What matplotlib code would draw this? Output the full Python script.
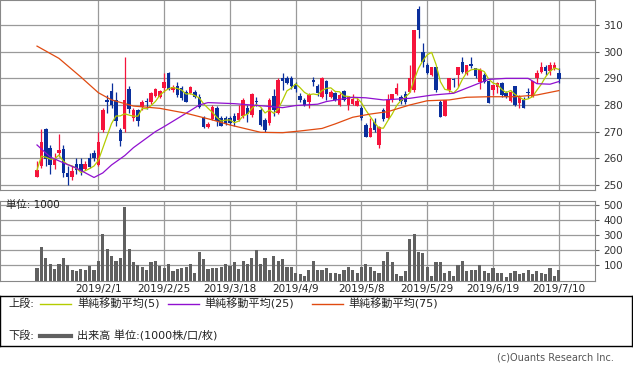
import matplotlib.pyplot as plt
import pandas as pd

plt.rcParams['font.family'] = ['DejaVu Sans', 'Noto Sans CJK JP']

# 日足データ（120本、2019/7/10 が最後）
opens = [253.1, 257, 271, 264, 257.5, 262, 263.4, 254.4, 252.8, 257.8,
         257.8, 255.9, 260.2, 261.9, 257.5, 270.6, 282, 285.3, 282, 270.6,
         271, 286, 275, 278, 279.4, 281.5, 281.3, 283.4, 283.1, 286.3,
         292, 285.6, 287, 286.3, 285, 284.4, 285, 283.1, 275.4, 271.6,
         274.9, 278.9, 275.1, 275.1, 275.1, 275.8, 274.5, 275.8, 279, 276.3,
         281.5, 278.3, 274.3, 273.1, 283.2, 277, 290.1, 290, 290, 288,
         283.5, 282, 281.2, 289.2, 287, 282.9, 289, 283, 284.5, 280.1,
         285.4, 280.1, 280.4, 279.8, 278.9, 272.6, 268, 273.5, 264.8, 278.2,
         275, 281.9, 284, 283.1, 284.1, 285, 285.6, 316.2, 300, 295,
         291.2, 294.4, 281.2, 275.9, 285.6, 289.6, 291.2, 296.2, 291.6, 295.2,
         293.8, 288.8, 291.2, 289.1, 285.6, 286.6, 288.1, 284.4, 281.6, 287.1,
         280.6, 281.9, 284.8, 283.1, 290, 292.5, 294.4, 292.8, 293.8, 292.1]
highs = [259, 271, 271.5, 265, 262, 269, 265, 257, 257, 260,
         260, 258.8, 262, 263, 270, 279, 283.8, 288.4, 285, 271.5,
         298, 287, 279, 278.5, 282, 282.5, 285, 286.3, 285.6, 292,
         292.5, 287.5, 288.5, 287, 285.6, 287, 285.6, 284, 276, 273.5,
         280, 279.5, 275.8, 275.8, 276, 277, 280, 282.6, 280, 284.4,
         283, 279, 275, 282.6, 286, 290, 292, 291, 291, 288.5,
         284.5, 282.5, 284.4, 290.5, 287.8, 290.4, 289.5, 285.5, 285, 284.5,
         285.8, 283.5, 284, 282.8, 279.5, 273.2, 275, 275, 272.2, 279,
         284, 284, 288.1, 283.8, 285.4, 295, 308.1, 317.1, 303.1, 295.6,
         294.4, 294.4, 281.9, 281.9, 290, 290, 294.4, 298.1, 295, 298.1,
         293.8, 293.8, 291.9, 289.1, 287.5, 288.8, 288.8, 285.4, 285.6, 287.1,
         283.8, 283.1, 286.2, 289.1, 293.1, 296.2, 295, 296.2, 296.2, 293.8]
lows = [253, 256.5, 257, 254, 256, 260.5, 253, 250, 252, 254,
        253.8, 255.6, 256.3, 258.8, 257, 270, 277, 279, 272, 264.7,
        270, 277, 274, 272, 278, 278.5, 280.5, 283, 282.5, 285,
        285.6, 285, 283, 282, 281, 284, 282.5, 279, 271.3, 271.5,
        274.5, 272, 272, 272.5, 272.5, 272, 274, 275, 273.5, 275.5,
        279.5, 272, 270, 272.5, 276, 276.5, 285.6, 288, 286, 285,
        281, 279.6, 278.8, 287, 283.5, 282.6, 282, 282.6, 281.5, 279.6,
        281.5, 278.1, 280, 279.6, 274.5, 267.9, 267.9, 270, 263.7, 274,
        274.8, 281.2, 283.8, 280.5, 280.5, 285, 285, 305, 294.4, 291.6,
        290.9, 285, 275.6, 275.9, 285, 286.9, 286.9, 291.9, 291.2, 293.8,
        290, 285.9, 288.1, 280.9, 283.8, 284.4, 283.1, 282.5, 281.2, 279.6,
        278.8, 278.8, 282.5, 282.9, 288.1, 292.1, 291.2, 291.2, 293.1, 288.1]
closes = [255.6, 266, 259.6, 257.5, 260, 263, 254.6, 252.9, 255.2, 255.6,
          255.2, 257.8, 256.9, 260, 266.3, 278, 281, 280, 274, 266.5,
          282, 278.5, 278, 274, 281.3, 281, 284.4, 285.9, 285.4, 288.8,
          286, 286.9, 283.8, 282.5, 281.3, 286.9, 283.1, 279.4, 271.6, 272.9,
          279.1, 273.9, 272.3, 273.3, 273.3, 273.9, 277, 282, 276.6, 284,
          281.2, 272.5, 270.7, 282, 278, 289.3, 288.9, 288.4, 287.1, 286,
          282, 280.1, 283.8, 288.8, 284.5, 290, 284, 284.9, 282, 283.9,
          282, 283.2, 282.4, 281.4, 275.1, 268, 271.4, 270.5, 271.8, 274.8,
          281.9, 284, 286.2, 281.6, 281, 290, 308.1, 308.1, 296.2, 291.9,
          294.4, 285.6, 275.6, 281.9, 290, 289.2, 294.4, 292.5, 295, 294.8,
          290.9, 293.1, 288.8, 280.9, 287.5, 288.1, 283.8, 282.9, 285, 280,
          283.1, 278.8, 284.5, 289.1, 292.1, 294.4, 292.8, 295, 295, 289.6]
volumes = [80, 220, 153, 113, 76, 113, 147, 100, 67, 62,
           78, 69, 98, 67, 133, 307, 207, 160, 129, 147,
           487, 207, 122, 100, 89, 67, 122, 129, 96, 80,
           107, 62, 76, 82, 89, 107, 53, 187, 140, 76,
           80, 80, 89, 113, 96, 122, 76, 133, 107, 147,
           200, 107, 147, 73, 160, 127, 140, 87, 87, 50,
           45, 33, 73, 133, 73, 73, 80, 53, 53, 40,
           73, 87, 73, 53, 93, 113, 93, 60, 53, 133,
           187, 120, 40, 27, 60, 273, 307, 187, 180, 87,
           27, 120, 120, 53, 60, 33, 100, 127, 60, 73,
           67, 100, 60, 53, 80, 53, 53, 20, 47, 60,
           40, 47, 73, 40, 60, 53, 40, 80, 33, 67]

# 移動平均線（25日・75日）は表示期間より前のデータを含むため図から読み取り
ma25_x = [0, 3, 6, 9, 13, 15, 17, 20, 22, 27, 29, 34, 37, 39, 45, 52, 56, 59,
          64, 66, 72, 75, 79, 85, 90, 95, 99, 103, 107, 112, 114, 117, 119]
ma25_y = [265, 260.5, 258.3, 256.3, 252.8, 254.5, 257.5, 261, 264, 270, 271.9,
          276.9, 280, 280.9, 280.5, 279.6, 279, 279.8, 280.3, 281.3, 282.9, 282.7,
          281.9, 282.5, 283.7, 284.4, 287.0, 289.6, 290, 290, 288, 287.8, 288.8]
ma75_x = [0, 5, 10, 14, 17, 22, 28, 34, 40, 44, 51, 56, 60, 65, 68, 72, 76,
          80, 85, 89, 94, 98, 103, 109, 114, 119]
ma75_y = [302.1, 297.5, 290.5, 284.6, 281.9, 279.6, 278.75, 276.9, 274.4, 272.5,
          269.75, 269.6, 270.25, 271.2, 272.9, 275.4, 276.6, 277.5, 280, 281.6,
          281.9, 282.9, 283.1, 283.1, 283.75, 285.4]

tick_pos = [14, 29, 44, 59, 74, 89, 104, 119]
tick_labels = ['2019/2/1', '2019/2/25', '2019/3/18', '2019/4/9',
               '2019/5/8', '2019/5/29', '2019/6/19', '2019/7/10']
price_ticks = [250, 260, 270, 280, 290, 300, 310]
vol_ticks = [100, 200, 300, 400, 500]

up_color = '#F5143C'
down_color = '#0A2F9C'
ma5_color = '#B4CC00'
ma25_color = '#9010D0'
ma75_color = '#E04A10'
grid_color = '#9A9A9A'
W, H = 633, 371

fig = plt.figure(figsize=(W / 100, H / 100), dpi=100)
ax = fig.add_axes([0, 1 - 190 / H, 595 / W, 190 / H])
axv = fig.add_axes([0, 1 - 280.5 / H, 595 / W, 79.2 / H], sharex=ax)
axl = fig.add_axes([0, 1 - 346 / H, 632 / W, 50 / H])

df = pd.DataFrame({'o': opens, 'h': highs, 'l': lows, 'c': closes, 'v': volumes})
df['ma5'] = df['c'].rolling(5, min_periods=1).mean()
colors = [up_color if c >= o else down_color for o, c in zip(df['o'], df['c'])]

# ローソク足
ax.vlines(df.index, df['l'], df['h'], colors=colors, linewidth=0.9, zorder=3)
body_low = df[['o', 'c']].min(axis=1)
body_h = (df['c'] - df['o']).abs().clip(lower=0.35)
ax.bar(df.index, body_h, bottom=body_low, width=0.8, color=colors, linewidth=0, zorder=4)

ax.plot(df.index, df['ma5'], color=ma5_color, linewidth=0.9, zorder=5)
ax.plot(ma25_x, ma25_y, color=ma25_color, linewidth=0.9, zorder=5)
ax.plot(ma75_x, ma75_y, color=ma75_color, linewidth=0.9, zorder=5)

ax.set_xlim(-8.44, 127.25)
ax.set_ylim(248.1, 319.4)
ax.set_yticks(price_ticks)
ax.yaxis.tick_right()

# 出来高
axv.bar(df.index, df['v'], width=0.72, color='#606060', zorder=3)
axv.set_ylim(0, 527)
axv.set_yticks(vol_ticks)
axv.yaxis.tick_right()
axv.text(6 / 595, 0.95, '単位: 1000', transform=axv.transAxes, fontsize=7.5,
         va='center', ha='left', color='#222222')

for a in (ax, axv):
    a.set_xticks(tick_pos)
    a.grid(True, color=grid_color, linewidth=0.9, zorder=0)
    a.set_axisbelow(True)
    a.tick_params(axis='y', length=3, width=0.8, color='#666666', pad=3,
                  labelsize=7.5, labelcolor='#333333')
    a.tick_params(axis='x', length=0)
    for s in a.spines.values():
        s.set_color('#888888')
        s.set_linewidth(0.8)
ax.tick_params(axis='x', labelbottom=False)
axv.set_xticklabels(tick_labels)
axv.tick_params(axis='x', labelsize=7.5, labelcolor='#222222', pad=2.5)

# 凡例
axl.set_xlim(0, 632)
axl.set_ylim(50, 0)
axl.set_xticks([])
axl.set_yticks([])
for s in axl.spines.values():
    s.set_color('black')
    s.set_linewidth(1)
r1, r2 = 7.5, 40
axl.text(8, r1, '上段:', fontsize=8, va='center', color='#222222')
axl.plot([40, 71], [r1, r1], color=ma5_color, linewidth=1)
axl.text(77, r1, '単純移動平均(5)', fontsize=8, va='center', color='#222222')
axl.plot([168, 199], [r1, r1], color=ma25_color, linewidth=1)
axl.text(204, r1, '単純移動平均(25)', fontsize=8, va='center', color='#222222')
axl.plot([312, 343], [r1, r1], color=ma75_color, linewidth=1)
axl.text(348, r1, '単純移動平均(75)', fontsize=8, va='center', color='#222222')
axl.text(8, r2, '下段:', fontsize=8, va='center', color='#222222')
axl.plot([40, 71], [r2, r2], color='#606060', linewidth=3)
axl.text(77, r2, '出来高 単位:(1000株/口/枚)', fontsize=8, va='center', color='#222222')

fig.text(614 / W, 1 - 358 / H, '(c)Ouants Research Inc.', fontsize=7,
         ha='right', va='center', color='#555555')

fig.savefig('out.png', dpi=100)
